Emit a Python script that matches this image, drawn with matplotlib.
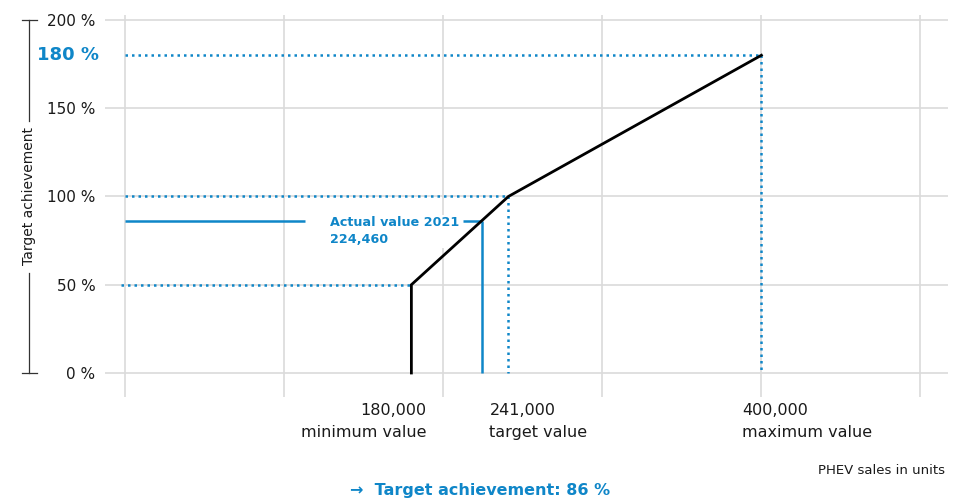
import matplotlib
matplotlib.use("Agg")
import matplotlib.pyplot as plt
from matplotlib.transforms import blended_transform_factory

# ---- data ----
min_value = 180000
target_value = 241000
max_value = 400000
actual_value = 224460
achievement_min = 50
achievement_target = 100
achievement_max = 180
actual_achievement = 86

curve_x = [min_value, min_value, target_value, max_value]
curve_y = [0, achievement_min, achievement_target, achievement_max]

y_ticks = [0, 50, 100, 150, 200]
y_tick_labels = ["0 %", "50 %", "100 %", "150 %", "200 %"]
x_grid = [0, 100000, 200000, 300000, 400000, 500000]

x_labels = [(min_value, "180,000\nminimum value", "right"),
            (target_value, "241,000\ntarget value", "left"),
            (max_value, "400,000\nmaximum value", "left")]

BLUE = "#0f86c8"
GRID = "#dadada"

plt.rcParams['font.family'] = ['DejaVu Sans']

W, H = 973, 501
fig = plt.figure(figsize=(W / 100, H / 100), dpi=100)
ax = fig.add_axes([105 / W, (H - 397) / H, 843 / W, 382 / H])

ax.set_xlim(-12571, 517285)
ax.set_ylim(-13.6, 202.8)
for s in ax.spines.values():
    s.set_visible(False)

ax.set_xticks(x_grid)
ax.set_xticklabels([])
ax.set_yticks(y_ticks)
ax.set_yticklabels(y_tick_labels, fontsize=11, color="#1a1a1a")
ax.tick_params(length=0, pad=7)
ax.grid(True, color=GRID, linewidth=1.2)
ax.set_axisbelow(True)

dot = dict(color=BLUE, linewidth=1.8, linestyle=(0, (1, 1.6)))

# dotted guide lines
ax.plot([0, max_value], [achievement_max, achievement_max], **dot)
ax.plot([max_value, max_value], [achievement_max, 0], **dot)
ax.plot([0, target_value], [achievement_target, achievement_target], **dot)
ax.plot([target_value, target_value], [achievement_target, 0], **dot)
ax.plot([-2500, min_value], [achievement_min, achievement_min], **dot)

# actual value lines
gap_start, gap_end = 113000, 212500
ax.plot([0, gap_start], [actual_achievement, actual_achievement], color=BLUE, lw=1.8, solid_capstyle="butt")
ax.plot([gap_end, actual_value], [actual_achievement, actual_achievement], color=BLUE, lw=1.8, solid_capstyle="butt")
ax.plot([actual_value, actual_value], [actual_achievement, 0], color=BLUE, lw=1.8, solid_capstyle="butt")

ax.annotate(f"Actual value 2021\n{actual_value:,}", xy=(129000, actual_achievement),
            xytext=(0, 5), textcoords="offset pixels", ha="left", va="top",
            color=BLUE, fontsize=9.2, fontweight="bold", linespacing=1.4,
            bbox=dict(facecolor="white", edgecolor="none", pad=1.0))

# curve
ax.plot(curve_x, curve_y, color="black", lw=2.0, solid_joinstyle="miter", zorder=5)

# 180 % label
tr_y = blended_transform_factory(ax.transAxes, ax.transData)
ax.text(-6 / 843, achievement_max + 0.3, f"{achievement_max} %", transform=tr_y, ha="right", va="center",
        color=BLUE, fontsize=13, fontweight="bold")

# x labels
for xv, lab, ha in x_labels:
    off = 15 if ha == "right" else -19
    ax.annotate(lab, xy=(xv, 0), xycoords=("data", "axes fraction"),
                xytext=(off, -6), textcoords="offset pixels", ha=ha, va="top",
                fontsize=11.5, color="#1a1a1a", linespacing=1.55)

# y-axis bracket
tr_fig = blended_transform_factory(fig.transFigure, ax.transData)
bx = 29 / W
kw = dict(color="#333333", lw=0.9, transform=tr_fig, clip_on=False)
ax.plot([bx, bx], [200, 143], **kw)
ax.plot([bx, bx], [56.5, 0], **kw)
ax.plot([22 / W, 37 / W], [200, 200], **kw)
ax.plot([22 / W, 37 / W], [0, 0], **kw)
ax.text(bx, 100, "Target achievement", transform=tr_fig, rotation=90, ha="center", va="center",
        fontsize=10, color="#1a1a1a")

fig.text(945 / W, 1 - 470 / H, "PHEV sales in units", ha="right", va="center", fontsize=9.5, color="#1a1a1a")
fig.text(480 / W, 1 - 491 / H, f"\u2192  Target achievement: {actual_achievement} %", ha="center", va="center",
         fontsize=11.5, fontweight="bold", color=BLUE)

fig.savefig("out.png", dpi=100)
